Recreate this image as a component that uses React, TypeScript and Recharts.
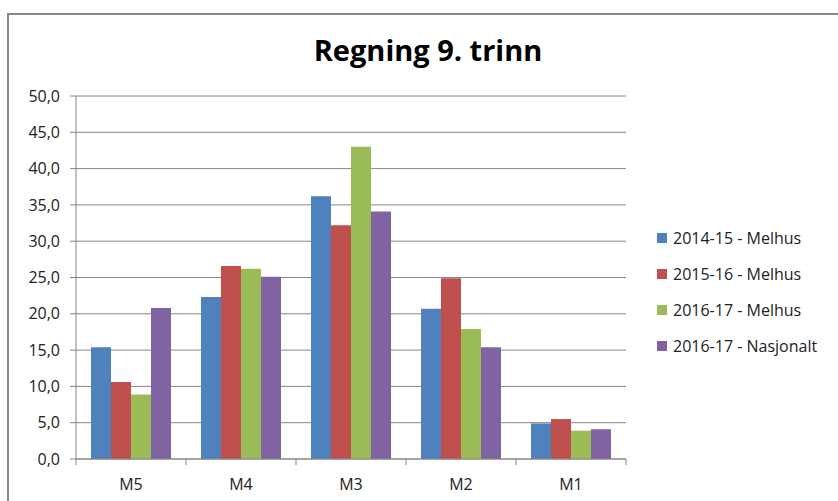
import { BarChart, Bar, XAxis, YAxis, CartesianGrid } from "recharts";

const categories = ["M5", "M4", "M3", "M2", "M1"];
const s1415 = [15.4, 22.3, 36.2, 20.7, 4.9];
const s1516 = [10.6, 26.6, 32.2, 24.9, 5.5];
const s1617 = [8.9, 26.2, 43.0, 17.9, 3.9];
const nasjonalt = [20.8, 25.1, 34.1, 15.4, 4.1];
const yTicks = [0, 5, 10, 15, 20, 25, 30, 35, 40, 45, 50];

const series = [
  { key: "a", name: "2014-15 - Melhus", color: "#4F81BD", values: s1415 },
  { key: "b", name: "2015-16 - Melhus", color: "#C0504D", values: s1516 },
  { key: "c", name: "2016-17 - Melhus", color: "#9BBB59", values: s1617 },
  { key: "d", name: "2016-17 - Nasjonalt", color: "#8064A2", values: nasjonalt },
];

const data = categories.map((cat, i) => {
  const row: Record<string, any> = { cat };
  series.forEach((s) => (row[s.key] = s.values[i]));
  return row;
});

const FONT = "'Open Sans', 'DejaVu Sans', sans-serif";
const GRID = "#868686";
const W = 838;
const H = 501;
const M = { top: 96, right: 212, bottom: 12, left: 16 };
const Y_W = 60;
const band = (W - M.left - Y_W - M.right) / categories.length;

function CatTick(props: any) {
  const { x, y, payload, index } = props;
  return (
    <g>
      <line x1={x - band / 2} x2={x - band / 2} y1={y - 8} y2={y - 2} stroke={GRID} />
      {index === categories.length - 1 && (
        <line x1={x + band / 2} x2={x + band / 2} y1={y - 8} y2={y - 2} stroke={GRID} />
      )}
      <text x={x} y={y + 23} textAnchor="middle" fontSize={16} fill="#222" fontFamily={FONT}>
        {payload.value}
      </text>
    </g>
  );
}

function LegendBox() {
  return (
    <div style={{ position: "absolute", left: 657, top: 220, fontFamily: FONT, fontSize: 16, color: "#222" }}>
      {series.map((s) => (
        <div key={s.key} style={{ display: "flex", alignItems: "center", height: 36 }}>
          <span style={{ width: 10, height: 10, background: s.color, marginRight: 6 }} />
          <span>{s.name}</span>
        </div>
      ))}
    </div>
  );
}

export default function App() {
  return (
    <div style={{ position: "absolute", left: 0, top: 0, width: W, height: H, background: "#fff", overflow: "hidden" }}>
      <div
        style={{
          position: "absolute",
          left: 7,
          top: 13,
          width: W,
          height: H,
          borderTop: `2px solid ${GRID}`,
          borderLeft: `2px solid ${GRID}`,
        }}
      />
      <div
        style={{
          position: "absolute",
          left: 0,
          width: 856,
          top: 30,
          textAlign: "center",
          fontFamily: FONT,
          fontWeight: 700,
          fontSize: 29,
          color: "#000",
        }}
      >
        Regning 9. trinn
      </div>
      <div style={{ position: "absolute", left: 0, top: 0 }}>
        <BarChart width={W} height={H} data={data} margin={M} barGap={0} barCategoryGap={15}>
          <CartesianGrid vertical={false} stroke={GRID} strokeDasharray="" />
          <XAxis
            dataKey="cat"
            stroke={GRID}
            tickLine={false}
            tick={<CatTick />}
            height={30}
          />
          <YAxis
            width={Y_W}
            domain={[0, 50]}
            ticks={yTicks}
            interval={0}
            stroke={GRID}
            tickSize={6}
            tickMargin={10}
            tick={{ fontSize: 16, fill: "#222", fontFamily: FONT }}
            tickFormatter={(v: number) => v.toFixed(1).replace(".", ",")}
          />
          {series.map((s) => (
            <Bar key={s.key} dataKey={s.key} name={s.name} fill={s.color} isAnimationActive={false} />
          ))}
        </BarChart>
      </div>
      <LegendBox />
    </div>
  );
}
